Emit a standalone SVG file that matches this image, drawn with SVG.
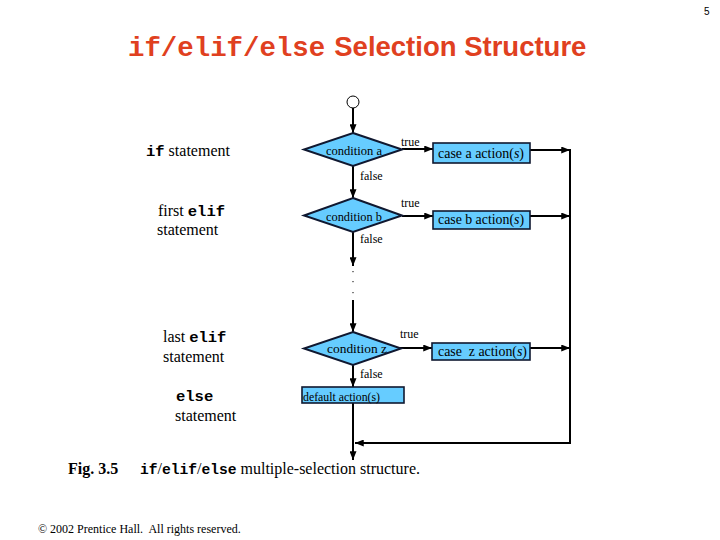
<svg xmlns="http://www.w3.org/2000/svg" width="720" height="540" viewBox="0 0 720 540">
<style>
.ser{font-family:"Liberation Serif","Times New Roman",serif;fill:#000}
.mono{font-family:"Liberation Mono","Courier New",monospace;font-weight:bold}
.sans{font-family:"Liberation Sans",Arial,sans-serif}
.dia{fill:#66CCFF;stroke:#101830;stroke-width:2}
.box{fill:#66CCFF;stroke:#101830;stroke-width:1.6}
.ln{fill:none;stroke:#000;stroke-width:2}
.arr{fill:none;stroke:#000;stroke-width:2;marker-end:url(#ah)}
.lbl{font-size:12px}
.pre{white-space:pre}
</style>
<defs>
<marker id="ah" viewBox="0 0 10 8" refX="10" refY="4" markerWidth="9" markerHeight="7" markerUnits="userSpaceOnUse" orient="auto">
<path d="M0,0 L10,4 L0,8 z" fill="#000"/>
</marker>
</defs>
<rect width="720" height="540" fill="#fff"/>
<text class="sans" x="704" y="15" font-size="10">5</text>
<g id="title">
<text x="128" y="56" fill="#E04020" font-size="27"><tspan class="mono" font-size="27.4">if/elif/else</tspan><tspan class="sans" font-weight="bold" font-size="27.5" dx="9">Selection Structure</tspan></text>
</g>
<g id="labels">
<text class="ser" x="146" y="156" font-size="16"><tspan class="mono" font-size="15.5">if</tspan> statement</text>
<text class="ser" x="158" y="216" font-size="16">first <tspan class="mono" font-size="15.5">elif</tspan></text>
<text class="ser" x="157" y="235" font-size="16">statement</text>
<text class="ser" x="163" y="342" font-size="16">last <tspan class="mono" font-size="15.5">elif</tspan></text>
<text class="ser" x="163" y="362" font-size="16">statement</text>
<text class="mono" x="176" y="401" font-size="15.5">else</text>
<text class="ser" x="175" y="421" font-size="16">statement</text>
</g>
<g id="connectors">
<line class="arr" x1="353" y1="108" x2="353" y2="133"/>
<line class="arr" x1="402" y1="149" x2="433" y2="149"/>
<line class="arr" x1="530" y1="150" x2="570" y2="150"/>
<line class="arr" x1="353" y1="166" x2="353" y2="198"/>
<line class="arr" x1="402" y1="216" x2="433" y2="216"/>
<line class="arr" x1="530" y1="216" x2="570" y2="216"/>
<line class="arr" x1="353" y1="232" x2="353" y2="266"/>
<g fill="#000"><rect x="352.5" y="271" width="1" height="1.2"/><rect x="352.5" y="281" width="1" height="1.2"/><rect x="352.5" y="292" width="1" height="1.2"/></g>
<line class="arr" x1="353" y1="300" x2="353" y2="332"/>
<line class="arr" x1="400" y1="348" x2="432" y2="348"/>
<line class="arr" x1="530" y1="348" x2="570" y2="348"/>
<line class="arr" x1="353" y1="365" x2="353" y2="387"/>
<line class="arr" x1="353" y1="403" x2="353" y2="460"/>
<line class="ln" x1="570" y1="149" x2="570" y2="444"/>
<line class="arr" x1="571" y1="443" x2="355" y2="443"/>
</g>
<g id="start"><circle cx="353" cy="102" r="6" fill="#fff" stroke="#000" stroke-width="1"/></g>
<g id="condA">
<polygon class="dia" points="353,133 402,149.5 353,166 304,149.5"/>
<text class="ser" x="326" y="155" font-size="12.5" textLength="56" lengthAdjust="spacingAndGlyphs">condition a</text>
<text class="ser lbl" x="401" y="146">true</text>
<text class="ser lbl" x="360" y="180">false</text>
</g>
<g id="actionA">
<rect class="box" x="433" y="143" width="97" height="20"/>
<text class="ser" x="438" y="158" font-size="14" textLength="86" lengthAdjust="spacingAndGlyphs">case a action(<tspan font-style="italic">s</tspan>)</text>
</g>
<g id="condB">
<polygon class="dia" points="353,198 402,215.5 353,232 304,215.5"/>
<text class="ser" x="326" y="221" font-size="12.5" textLength="56" lengthAdjust="spacingAndGlyphs">condition b</text>
<text class="ser lbl" x="401" y="207">true</text>
<text class="ser lbl" x="360" y="243">false</text>
</g>
<g id="actionB">
<rect class="box" x="433" y="211" width="97" height="18"/>
<text class="ser" x="438" y="224" font-size="14" textLength="86" lengthAdjust="spacingAndGlyphs">case b action(<tspan font-style="italic">s</tspan>)</text>
</g>
<g id="condZ">
<polygon class="dia" points="353,332 401,348.5 353,365 304,348.5"/>
<text class="ser" x="327" y="353" font-size="12.5" textLength="60" lengthAdjust="spacingAndGlyphs">condition z</text>
<text class="ser lbl" x="400" y="338">true</text>
<text class="ser lbl" x="360" y="378">false</text>
</g>
<g id="actionZ">
<rect class="box" x="432" y="343" width="98" height="17"/>
<text class="ser pre" x="438" y="356" font-size="14" textLength="89" lengthAdjust="spacingAndGlyphs">case  z action(<tspan font-style="italic">s</tspan>)</text>
</g>
<g id="default">
<rect class="box" x="302" y="387" width="102" height="16"/>
<text class="ser" x="303" y="401" font-size="12" textLength="77" lengthAdjust="spacingAndGlyphs">default action(s)</text>
</g>
<g id="caption">
<text class="ser" x="68" y="474" font-size="16" font-weight="bold">Fig. 3.5</text>
<text class="ser" x="140" y="474" font-size="16"><tspan class="mono" font-size="14.6">if</tspan><tspan>/</tspan><tspan class="mono" font-size="14.6">elif</tspan><tspan>/</tspan><tspan class="mono" font-size="14.6">else</tspan> multiple-selection structure.</text>
<text class="ser pre" x="38" y="533" font-size="12">© 2002 Prentice Hall.  All rights reserved.</text>
</g>
</svg>
